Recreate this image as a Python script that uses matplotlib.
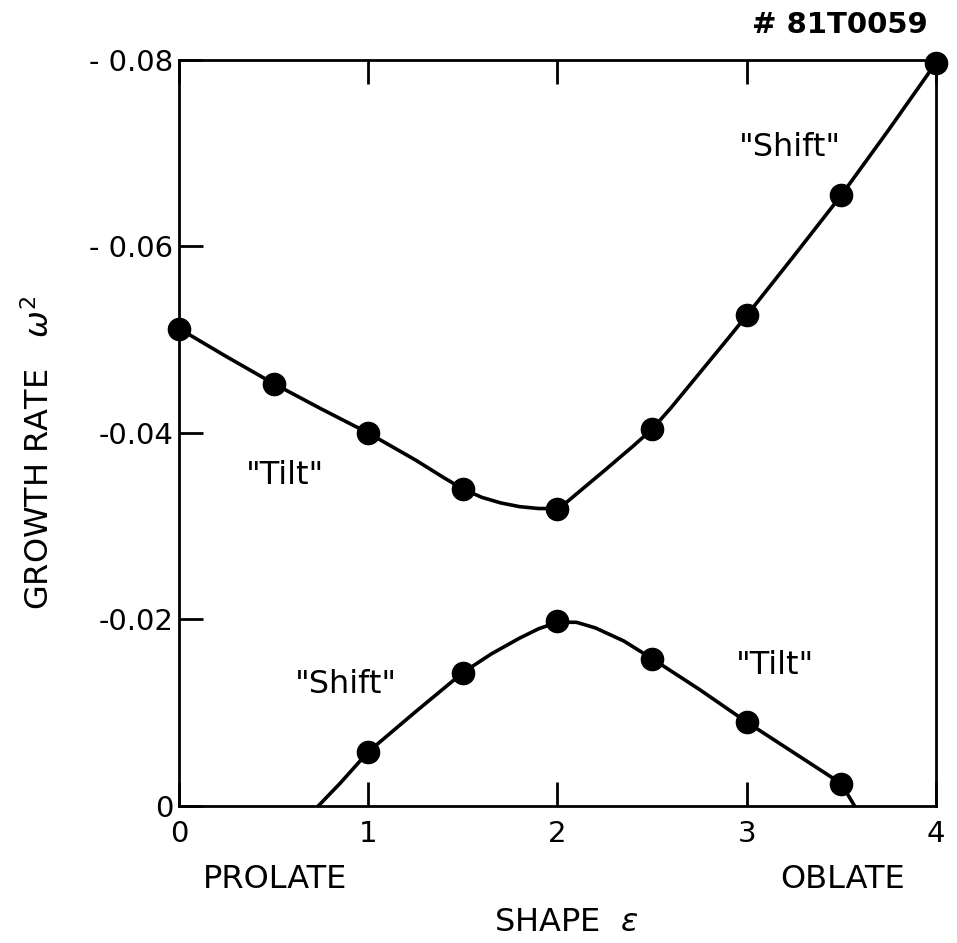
"""
Growth rate vs shape: "Tilt" and "Shift" branches
"""

import matplotlib
matplotlib.use("Agg")
import matplotlib.pyplot as plt

# measured points (shape eps, growth rate omega^2)
eps_pts = [0.0, 0.5, 1.0, 1.5, 2.0, 2.5, 3.0, 3.5, 4.0]
upper_pts = [-0.0512, -0.0453, -0.0400, -0.0340, -0.0319, -0.0404, -0.0526, -0.0655, -0.0797]

eps_low_pts = [1.0, 1.5, 2.0, 2.5, 3.0, 3.5]
lower_pts = [-0.0058, -0.0143, -0.0198, -0.0158, -0.0090, -0.0024]

# hand drawn curves
eps_upper_curve = [0.0, 0.25, 0.5, 0.75, 1.0, 1.25, 1.4, 1.5, 1.6, 1.7, 1.8,
                   1.9, 2.0, 2.05, 2.15, 2.25, 2.4, 2.5, 2.6, 2.75, 2.9, 3.0,
                   3.25, 3.5, 3.75, 4.0]
upper_curve = [-0.0512, -0.0482, -0.0453, -0.0426, -0.0400, -0.0371, -0.0352,
               -0.0340, -0.0331, -0.0325, -0.0321, -0.0319, -0.0319, -0.0326,
               -0.0343, -0.0360, -0.0386, -0.0404, -0.0427, -0.0464, -0.0501,
               -0.0526, -0.0590, -0.0655, -0.0725, -0.0797]

eps_lower_curve = [0.736, 0.85, 1.0, 1.25, 1.5, 1.65, 1.8, 1.9, 2.0, 2.1, 2.2,
                   2.35, 2.5, 2.75, 3.0, 3.25, 3.5, 3.57]
lower_curve = [0.0, -0.0024, -0.0058, -0.0101, -0.0143, -0.0163, -0.0180,
               -0.0190, -0.0197, -0.0197, -0.0191, -0.0177, -0.0158, -0.0125,
               -0.0090, -0.0057, -0.0024, 0.0]

xticks = [0, 1, 2, 3, 4]
xtick_labels = ["0", "1", "2", "3", "4"]
yticks = [-0.08, -0.06, -0.04, -0.02, 0.0]
ytick_labels = ["- 0.08", "- 0.06", "-0.04", "-0.02", "0"]

plt.rcParams["font.family"] = ["DejaVu Sans"]
plt.rcParams["mathtext.fontset"] = "dejavusans"

fig = plt.figure(figsize=(9.57, 9.43), dpi=100)
ax = fig.add_axes([0.187, 0.1453, 0.791, 0.7911])

# curves
ax.plot(eps_upper_curve, upper_curve, color="black", lw=2.6,
        solid_capstyle="round", solid_joinstyle="round")
ax.plot(eps_lower_curve, lower_curve, color="black", lw=2.6,
        solid_capstyle="round", solid_joinstyle="round")

# data points
ax.plot(eps_pts, upper_pts, "o", color="black", markersize=16, clip_on=False)
ax.plot(eps_low_pts, lower_pts, "o", color="black", markersize=16, clip_on=False)

ax.set_xlim(0, 4)
ax.set_ylim(0, -0.08)

ax.set_xticks(xticks)
ax.set_xticklabels(xtick_labels)
ax.set_yticks(yticks)
ax.set_yticklabels(ytick_labels)
ax.tick_params(axis="both", direction="in", length=17, width=2, labelsize=21,
               colors="black")
ax.tick_params(axis="x", top=True, pad=10)
ax.tick_params(axis="y", right=False, pad=4)

for side in ["left", "right", "top", "bottom"]:
    ax.spines[side].set_linewidth(2)

# annotations
ax.text(0.56, -0.0354, '"Tilt"', fontsize=23, ha="center", va="center")
ax.text(3.23, -0.0706, '"Shift"', fontsize=23, ha="center", va="center")
ax.text(0.88, -0.0130, '"Shift"', fontsize=23, ha="center", va="center")
ax.text(3.15, -0.0151, '"Tilt"', fontsize=23, ha="center", va="center")

# labels
fig.text(0.287, 0.067, "PROLATE", fontsize=23, ha="center", va="center")
fig.text(0.881, 0.067, "OBLATE", fontsize=23, ha="center", va="center")
fig.text(0.592, 0.022, r"SHAPE  $\epsilon$", fontsize=23, ha="center", va="center")
fig.text(0.041, 0.52, r"GROWTH RATE   $\omega^2$", fontsize=23, rotation=90,
         ha="center", va="center")
fig.text(0.878, 0.973, "# 81T0059", fontsize=21, ha="center", va="center",
         fontweight="bold")

plt.savefig("out.png", dpi=100)
